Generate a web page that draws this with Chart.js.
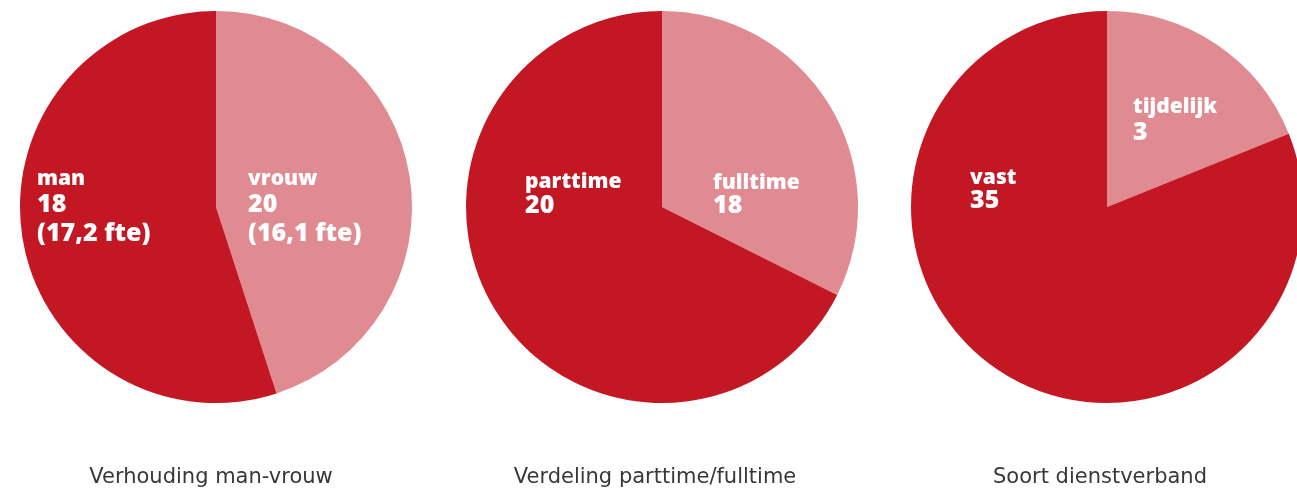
<!DOCTYPE html>
<html>
<head>
<meta charset="utf-8">
<script src="https://cdn.jsdelivr.net/npm/chart.js@4"></script>
<style>
  html, body { margin: 0; padding: 0; background: #fff; overflow: hidden; }
  #wrap { position: relative; width: 1297px; height: 491px; overflow: hidden; }
  canvas { position: absolute; top: 0; }
</style>
</head>
<body>
<div id="wrap">
  <canvas id="pie1" width="432" height="491" style="left:0px"></canvas>
  <canvas id="pie2" width="432" height="491" style="left:446px"></canvas>
  <canvas id="pie3" width="432" height="491" style="left:891px"></canvas>
</div>
<script>
// Chart titles
const titles = ['Verhouding man-vrouw', 'Verdeling parttime/fulltime', 'Soort dienstverband'];

// Pie 1: man / vrouw (slice sizes as drawn, light slice first from the top)
const genderLabels = ['vrouw', 'man'];
const genderShare = [45, 55];
const genderText = [['20', '(16,1 fte)'], ['18', '(17,2 fte)']];

// Pie 2: fulltime / parttime
const hoursLabels = ['fulltime', 'parttime'];
const hoursShare = [32.4, 67.6];
const hoursText = [['18'], ['20']];

// Pie 3: tijdelijk / vast
const contractLabels = ['tijdelijk', 'vast'];
const contractShare = [18.9, 81.1];
const contractText = [['3'], ['35']];

const colors = ['#E08B91', '#C31824'];

// Draws the white slice labels and the grey title below each pie
const sliceText = {
    id: 'sliceText',
    afterDraw(chart, args, opts) {
        const ctx = chart.ctx;
        const arc = chart.getDatasetMeta(0).data[0];
        const cx = arc.x, cy = arc.y;
        ctx.save();
        ctx.fillStyle = '#fff';
        ctx.textAlign = 'left';
        ctx.textBaseline = 'alphabetic';
        chart.data.labels.forEach((label, i) => {
            const pos = opts.place[i];
            const lines = [label].concat(opts.numbers[i]);
            lines.forEach((t, k) => {
                ctx.font = (k === 0 ? '800 21px' : '800 25px') + ' "Open Sans", sans-serif';
                ctx.fillText(t, cx + pos.dx, cy + pos.lines[k]);
            });
        });
        ctx.fillStyle = '#383838';
        ctx.font = '21px "DejaVu Sans", sans-serif';
        ctx.textAlign = 'center';
        ctx.fillText(opts.title, cx + opts.titleDx, opts.titleY);
        ctx.restore();
    }
};

function makePie(id, labels, values, numbers, title, place, titleDx) {
    new Chart(document.getElementById(id), {
        type: 'pie',
        data: {
            labels: labels,
            datasets: [{
                data: values,
                backgroundColor: colors,
                borderWidth: 0,
                hoverOffset: 0
            }]
        },
        options: {
            responsive: false,
            animation: false,
            events: [],
            layout: { padding: { top: 11, bottom: 88, left: 0, right: 0 } },
            plugins: {
                legend: { display: false },
                tooltip: { enabled: false },
                sliceText: {
                    place: place,
                    numbers: numbers,
                    title: title,
                    titleDx: titleDx,
                    titleY: 483
                }
            }
        },
        plugins: [sliceText]
    });
}

makePie('pie1', genderLabels, genderShare, genderText, titles[0], [
    { dx: 32, lines: [-22, 5, 34] },
    { dx: -179, lines: [-22, 5, 34] }
], -5);

makePie('pie2', hoursLabels, hoursShare, hoursText, titles[1], [
    { dx: 51, lines: [-18, 6] },
    { dx: -137, lines: [-19, 6] }
], -7);

makePie('pie3', contractLabels, contractShare, contractText, titles[2], [
    { dx: 26, lines: [-94, -67] },
    { dx: -137, lines: [-23, 1] }
], -7);
</script>
</body>
</html>
